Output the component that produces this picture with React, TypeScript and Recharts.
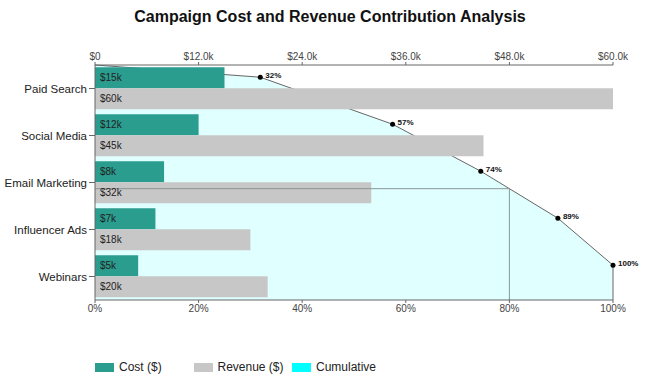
import { ComposedChart, Bar, Area, XAxis, YAxis, ReferenceLine, LabelList } from 'recharts'

const categories = ['Paid Search', 'Social Media', 'Email Marketing', 'Influencer Ads', 'Webinars']
const costValues = [15000, 12000, 8000, 7000, 5000]
const revenueValues = [60000, 45000, 32000, 18000, 20000]
// cumulative share of total cost, in %
const cumulativePct = [31.91, 57.45, 74.47, 89.36, 100]
const moneyTicks = [0, 12000, 24000, 36000, 48000, 60000]
const pctTicks = [0, 20, 40, 60, 80, 100]
const threshold = 80

const COST = '#2a9d8f'
const REVENUE = '#c8c7c7'
const CUMUL = '#00ffff'
const FONT = '"Liberation Sans", Arial, sans-serif'

// the cumulative points sit a little below the top of each category band
const dotOffset = 0.26

const barData = categories.map((name, i) => ({
  name,
  cost: costValues[i],
  revenue: revenueValues[i],
}))

const curveData = [
  { slot: 0, cum: 0 },
  ...cumulativePct.map((cum, i) => ({ slot: i + dotOffset, cum, marked: true })),
  { slot: categories.length, cum: 100 },
]

// where the cumulative line crosses the 80% mark
function crossingSlot() {
  for (let i = 1; i < curveData.length; i++) {
    const a = curveData[i - 1]
    const b = curveData[i]
    if (a.cum < threshold && b.cum >= threshold) {
      return a.slot + ((threshold - a.cum) / (b.cum - a.cum)) * (b.slot - a.slot)
    }
  }
  return categories.length
}
const slot80 = crossingSlot()

const money = (v: number) => (v === 0 ? '$0' : `$${(v / 1000).toFixed(1)}k`)
const kLabel = (v: any) => `$${Math.round(Number(v) / 1000)}k`

function CumDot(props: any) {
  const { cx, cy, payload, index } = props
  if (!payload || !payload.marked) return <g key={`d-${index}`} />
  return (
    <g key={`d-${index}`}>
      <circle cx={cx} cy={cy} r={2.5} fill="#000" />
      <text x={cx + 5} y={cy + 1} fontSize={8} fontWeight="bold" fill="#111" fontFamily={FONT}>
        {`${Math.round(payload.cum)}%`}
      </text>
    </g>
  )
}

function CategoryTick(props: any) {
  const { x, y, payload } = props
  return (
    <text x={x} y={y} dy={4} textAnchor="end" fontSize={11.5} fill="#222" fontFamily={FONT}>
      {payload.value}
    </text>
  )
}

const legendItems = [
  { label: 'Cost ($)', color: COST },
  { label: 'Revenue ($)', color: REVENUE },
  { label: 'Cumulative', color: CUMUL },
]

export default function App() {
  return (
    <div style={{ position: 'absolute', left: 0, top: 0, width: 650, height: 386, background: '#fff', fontFamily: FONT }}>
      <div
        style={{
          position: 'absolute',
          top: 8,
          left: 5,
          width: 650,
          textAlign: 'center',
          fontSize: 16,
          fontWeight: 'bold',
          color: '#111',
        }}
      >
        Campaign Cost and Revenue Contribution Analysis
      </div>

      <div style={{ position: 'absolute', left: 0, top: 0 }}>
        <ComposedChart
          width={650}
          height={386}
          data={barData}
          layout="vertical"
          margin={{ top: 35, right: 37, left: 10, bottom: 56 }}
          barCategoryGap="5%"
          barGap={0}
          style={{ fontFamily: FONT }}
        >
          <XAxis
            xAxisId="money"
            type="number"
            orientation="top"
            domain={[0, 60000]}
            ticks={moneyTicks}
            tickFormatter={money}
            stroke="#666"
            tickSize={3}
            tickMargin={2}
            tick={{ fill: '#444', fontSize: 10 }}
          />
          <XAxis
            xAxisId="pct"
            type="number"
            orientation="bottom"
            domain={[0, 100]}
            ticks={pctTicks}
            tickFormatter={(v) => `${v}%`}
            stroke="#666"
            tickSize={3}
            tickMargin={2}
            tick={{ fill: '#444', fontSize: 10 }}
          />
          <YAxis
            yAxisId="cat"
            type="category"
            dataKey="name"
            width={85}
            stroke="#666"
            tick={<CategoryTick />}
          />
          <YAxis yAxisId="slot" type="number" dataKey="slot" domain={[0, categories.length]} hide />

          <Area
            xAxisId="pct"
            yAxisId="slot"
            data={curveData}
            dataKey="cum"
            name="Cumulative"
            type="linear"
            stroke="#666"
            strokeWidth={1}
            fill={CUMUL}
            fillOpacity={0.12}
            dot={CumDot}
            activeDot={false}
            isAnimationActive={false}
          />
          <Bar xAxisId="money" yAxisId="cat" dataKey="cost" name="Cost ($)" fill={COST} isAnimationActive={false}>
            <LabelList dataKey="cost" position="insideLeft" formatter={kLabel} fill="#222" fontSize={10} />
          </Bar>
          <Bar xAxisId="money" yAxisId="cat" dataKey="revenue" name="Revenue ($)" fill={REVENUE} isAnimationActive={false}>
            <LabelList dataKey="revenue" position="insideLeft" formatter={kLabel} fill="#222" fontSize={10} />
          </Bar>

          <ReferenceLine
            xAxisId="pct"
            yAxisId="slot"
            segment={[
              { x: 0, y: slot80 },
              { x: threshold, y: slot80 },
            ]}
            stroke="#8a9696"
            strokeWidth={1}
          />
          <ReferenceLine
            xAxisId="pct"
            yAxisId="slot"
            segment={[
              { x: threshold, y: slot80 },
              { x: threshold, y: categories.length },
            ]}
            stroke="#8a9696"
            strokeWidth={1}
          />
        </ComposedChart>
      </div>

      <div style={{ position: 'absolute', left: 95, top: 360, display: 'flex', fontSize: 12, color: '#222' }}>
        {legendItems.map((item) => (
          <div key={item.label} style={{ width: 98.5, display: 'flex', alignItems: 'center', whiteSpace: 'nowrap' }}>
            <span style={{ display: 'inline-block', width: 19, height: 9, background: item.color, marginRight: 5 }} />
            <span>{item.label}</span>
          </div>
        ))}
      </div>
    </div>
  )
}
